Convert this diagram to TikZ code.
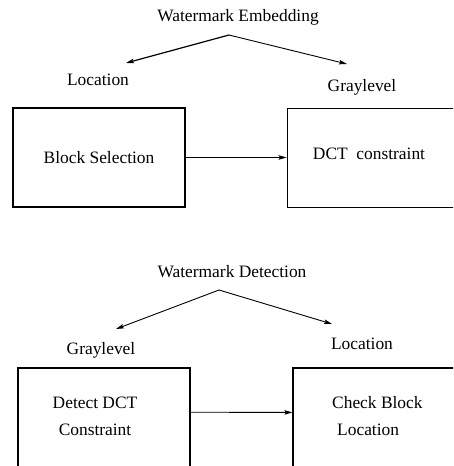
\documentclass[tikz,border=0pt]{standalone}
\usepackage{fontspec}
\setmainfont{Liberation Serif}
\usetikzlibrary{arrows.meta}
\begin{document}
\begin{tikzpicture}[x=1pt,y=-1pt,
  lbl/.style={inner sep=0pt,font=\fontsize{17.4}{27}\selectfont},
  boxthick/.style={draw,line width=2.2pt,inner sep=0pt},
  boxthin/.style={draw,line width=0.9pt,inner sep=0pt},
  arr/.style={line width=0.9pt,-{Stealth[length=8pt,width=4.5pt,inset=1.5pt]}}]
\useasboundingbox (0,0) rectangle (453,466);
\clip (0,0) rectangle (453,466);
% ---- top: embedding
\node[lbl] (emb) at (238,17) {Watermark Embedding};
\coordinate (eapex) at (229,35);
\coordinate (eleft) at (126,63);
\coordinate (eright) at (347,64);
\draw[arr,line width=1.2pt] (eapex) -- (eleft);
\draw[arr] (eapex) -- (eright);
\node[lbl] (eloc) at (98,80) {Location};
\node[lbl] (egray) at (362,87) {Graylevel};
\node[boxthick,minimum width=172pt,minimum height=99pt] (bs) at (99,157.5) {};
\node[lbl] (bst) at (99,158) {Block Selection};
\node[boxthin,minimum width=183pt,minimum height=99pt] (dct) at (378.5,157.5) {};
\node[lbl] (dctt) at (369,154) {DCT\ \ constraint};
\draw[arr] (bs.east) -- (dct.west);
% ---- bottom: detection
\node[lbl] (det) at (232,272) {Watermark Detection};
\coordinate (dapex) at (219,290);
\coordinate (dleft) at (116,329);
\coordinate (dright) at (332,324);
\draw[arr] (dapex) -- (dleft);
\draw[arr] (dapex) -- (dright);
\node[lbl] (dgray) at (101,350) {Graylevel};
\node[lbl] (dloc) at (362,344) {Location};
\node[boxthick,line width=1.6pt,minimum width=172pt,minimum height=112pt] (ddc) at (104,424) {};
\node[lbl,align=center] (ddct) at (95,416) {Detect DCT\\Constraint};
\node[boxthin,line width=1.1pt,minimum width=177pt,minimum height=112pt] (cbl) at (381.5,424) {};
\node[lbl,align=left,anchor=west] (cblt) at (332,416) {Check Block\\\hspace*{5pt}Location};
\draw[arr] ([yshift=-45pt]ddc.north east) -- ([yshift=-45pt]cbl.north west);
\end{tikzpicture}
\end{document}
